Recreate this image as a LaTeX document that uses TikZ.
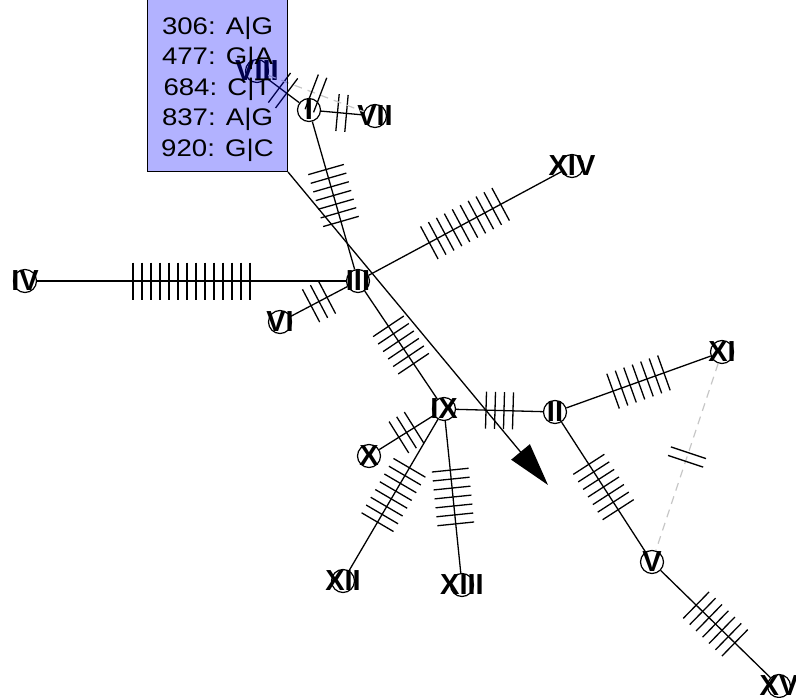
\documentclass[tikz,border=0pt]{standalone}
\usepackage{fontspec}
\setmainfont{Liberation Sans}
\newfontfamily\snpfont[FakeStretch=1.15]{Liberation Sans}
\usetikzlibrary{decorations.markings}
\usetikzlibrary{arrows.meta}

\tikzset{
  hap/.style={circle,draw,fill=white,line width=1.2pt,minimum size=23pt,inner sep=0pt},
  hlabel/.style={font=\bfseries\fontsize{29}{29}\selectfont,inner sep=0pt},
  link/.style={line width=1.3pt},
  altlink/.style={line width=1.2pt,gray!45,dash pattern=on 8pt off 6pt},
  ticks/.style={postaction={decorate,decoration={markings,mark=at position 0.5 with {\foreach \k in {1,...,#1}{\draw[solid,black,line width=1.3pt] ({(\k-(#1+1)/2)*9pt},-18.5pt) -- ++(0,37pt);}}}}},
  snpbox/.style={draw,line width=1pt,fill=blue,fill opacity=0.3,text opacity=1,align=center,minimum width=140pt,inner xsep=2pt,inner ysep=10pt,font=\snpfont\fontsize{24}{30.5}\selectfont}
}

\begin{document}
\begin{tikzpicture}[x=1pt,y=-1pt]
\useasboundingbox (0,0) rectangle (796,698);
\clip (0,0) rectangle (796,698);
% haplotypes
\node[hap,label={[hlabel]center:I}] (h1) at (309,110) {};
\node[hap,label={[hlabel]center:II}] (h2) at (555,412) {};
\node[hap,label={[hlabel]center:III}] (h3) at (358,281) {};
\node[hap,label={[hlabel]center:IV}] (h4) at (25,281) {};
\node[hap,label={[hlabel]center:V}] (h5) at (652,562) {};
\node[hap,label={[hlabel]center:VI}] (h6) at (280,322) {};
\node[hap,label={[hlabel]center:VII}] (h7) at (375,116) {};
\node[hap,label={[hlabel]center:VIII}] (h8) at (257,71) {};
\node[hap,label={[hlabel]center:IX}] (h9) at (444,409) {};
\node[hap,label={[hlabel]center:X}] (h10) at (369,456) {};
\node[hap,label={[hlabel]center:XI}] (h11) at (722,352) {};
\node[hap,label={[hlabel]center:XII}] (h12) at (343,581) {};
\node[hap,label={[hlabel]center:XIII}] (h13) at (462,585) {};
\node[hap,label={[hlabel]center:XIV}] (h14) at (572,166) {};
\node[hap,label={[hlabel]center:XV}] (h15) at (779,686) {};
% mutational steps
\draw[link,ticks=2] (h1) -- (h8);
\draw[link,ticks=2] (h1) -- (h7);
\draw[altlink,ticks=2] (h8) -- (h7);
\draw[link,ticks=7] (h1) -- (h3);
\draw[link,ticks=14] (h3) -- (h4);
\draw[link,ticks=3] (h3) -- (h6);
\draw[link,ticks=10] (h3) -- (h14);
\draw[link,ticks=6] (h3) -- (h9);
\draw[link,ticks=4] (h9) -- (h2);
\draw[link,ticks=3] (h9) -- (h10);
\draw[link,ticks=8] (h9) -- (h12);
\draw[link,ticks=7] (h9) -- (h13);
\draw[link,ticks=7] (h2) -- (h11);
\draw[link,ticks=7] (h2) -- (h5);
\draw[link,ticks=7] (h5) -- (h15);
\draw[altlink,ticks=2] (h11) -- (h5);
% site box
\node[snpbox,anchor=south east] (sites) at (288,172) {\rule{0pt}{40pt}306: A|G\\477: G|A\\684: C|T\\837: A|G\\920: G|C};
\coordinate (tip) at (548,485);
\draw[link,-{Triangle[length=43pt,width=24pt]}] (sites.south east) -- (tip);
\end{tikzpicture}
\end{document}
